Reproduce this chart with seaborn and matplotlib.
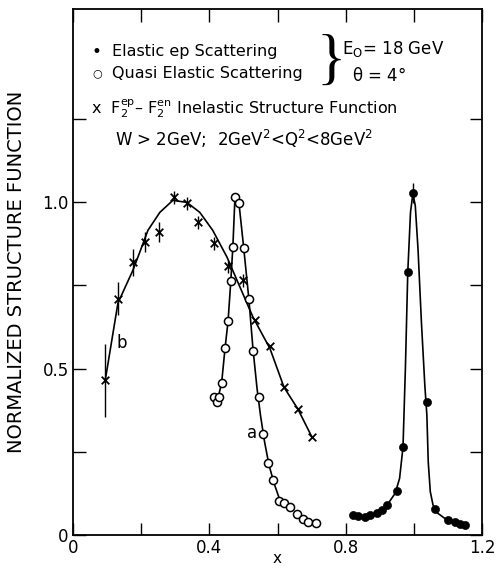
import numpy as np
import pandas as pd
import matplotlib
matplotlib.use("Agg")
import matplotlib.pyplot as plt
import seaborn as sns

# ── data ───────────────────────────────────────────────────────
# inelastic structure function (x markers)
inel_x = [0.094, 0.132, 0.176, 0.211, 0.252, 0.296, 0.334, 0.367, 0.413, 0.454,
          0.498, 0.534, 0.578, 0.619, 0.660, 0.701]
inel_y = [0.465, 0.71, 0.82, 0.88, 0.91, 1.015, 0.997, 0.94, 0.877, 0.808,
          0.766, 0.646, 0.568, 0.444, 0.378, 0.294]
inel_err = [0.11, 0.05, 0.04, 0.03, 0.03, 0.02, 0.02, 0.02, 0.02, 0.02,
            0.02, 0.0, 0.0, 0.0, 0.0, 0.0]
inel_curve_x = [0.094, 0.132, 0.176, 0.196, 0.22, 0.255, 0.293, 0.334, 0.372, 0.41,
                0.452, 0.49, 0.528, 0.578, 0.619, 0.66, 0.701]
inel_curve_y = [0.46, 0.697, 0.796, 0.85, 0.916, 0.97, 1.006, 1.0, 0.97, 0.916,
                0.835, 0.745, 0.655, 0.56, 0.444, 0.378, 0.294]

# quasi elastic scattering (open circles)
qe_x = [0.413, 0.422, 0.428, 0.436, 0.446, 0.455, 0.463, 0.469, 0.475, 0.487,
        0.501, 0.516, 0.528, 0.545, 0.557, 0.572, 0.587, 0.604, 0.619, 0.636,
        0.657, 0.674, 0.689, 0.713]
qe_y = [0.414, 0.40, 0.414, 0.456, 0.562, 0.643, 0.763, 0.865, 1.015, 0.997,
        0.862, 0.709, 0.553, 0.414, 0.303, 0.216, 0.165, 0.102, 0.096, 0.084,
        0.063, 0.048, 0.039, 0.036]
qe_curve_x = [0.425, 0.436, 0.446, 0.455, 0.463, 0.469, 0.475, 0.481, 0.487, 0.501,
              0.516, 0.528, 0.54, 0.55, 0.562, 0.575, 0.59, 0.605, 0.62]
qe_curve_y = [0.41, 0.456, 0.56, 0.643, 0.763, 0.865, 1.01, 1.02, 0.997, 0.862,
              0.709, 0.56, 0.44, 0.36, 0.28, 0.21, 0.155, 0.11, 0.085]

# elastic ep scattering (filled circles)
el_x = [0.821, 0.836, 0.856, 0.871, 0.891, 0.906, 0.921, 0.95, 0.968, 0.982,
        0.997, 1.038, 1.062, 1.10, 1.12, 1.135, 1.15]
el_y = [0.06, 0.057, 0.054, 0.06, 0.066, 0.075, 0.09, 0.132, 0.264, 0.79,
        1.027, 0.40, 0.078, 0.045, 0.04, 0.033, 0.03]
el_curve_x = [0.82, 0.85, 0.88, 0.905, 0.925, 0.945, 0.958, 0.968, 0.975, 0.982,
              0.99, 0.997, 1.004, 1.012, 1.022, 1.032, 1.038, 1.042, 1.048, 1.056,
              1.07, 1.09, 1.12, 1.15]
el_curve_y = [0.06, 0.055, 0.062, 0.075, 0.095, 0.125, 0.17, 0.264, 0.5, 0.79,
              0.97, 1.027, 0.99, 0.86, 0.64, 0.45, 0.36, 0.22, 0.13, 0.09,
              0.065, 0.05, 0.038, 0.03]

x_ticks = [0, 0.2, 0.4, 0.6, 0.8, 1.0, 1.2]
x_labels = ["0", "", "0.4", "", "0.8", "", "1.2"]
y_ticks = [0, 0.25, 0.5, 0.75, 1.0, 1.25]
y_labels = ["0", "", "0.5", "", "1.0", ""]

# ── style ──────────────────────────────────────────────────────
sns.set_style("ticks")
plt.rcParams["font.family"] = ["DejaVu Sans"]
plt.rcParams["mathtext.default"] = "regular"
plt.rcParams["text.color"] = "black"
plt.rcParams["axes.labelcolor"] = "black"
plt.rcParams["xtick.color"] = "black"
plt.rcParams["ytick.color"] = "black"

fig = plt.figure(figsize=(4.96, 5.69), dpi=100)
ax = fig.add_axes([0.147, 0.06, 0.825, 0.925])

# curves
for cx, cy in [(inel_curve_x, inel_curve_y), (qe_curve_x, qe_curve_y), (el_curve_x, el_curve_y)]:
    sns.lineplot(x=cx, y=cy, ax=ax, color="black", lw=1.2, sort=False, estimator=None)

# markers
ax.errorbar(inel_x, inel_y, yerr=inel_err, fmt="none", ecolor="black", elinewidth=1.0)
sns.scatterplot(x=inel_x, y=inel_y, ax=ax, marker="x", s=30, color="black", linewidth=1.3, zorder=4)
sns.scatterplot(x=qe_x, y=qe_y, ax=ax, marker="o", s=34, facecolor="white",
                edgecolor="black", linewidth=1.1, zorder=5)
ax.errorbar([el_x[10]], [el_y[10]], yerr=[0.03], fmt="none", ecolor="black", elinewidth=1.0)
sns.scatterplot(x=el_x, y=el_y, ax=ax, marker="o", s=34, color="black",
                edgecolor="black", zorder=5)

# curve labels
ax.text(0.144, 0.577, "b", fontsize=12, ha="center", va="center")
ax.text(0.525, 0.306, "a", fontsize=12, ha="center", va="center")

# legend block
ax.text(0.07, 1.453, "\u2022", fontsize=12, va="center", ha="center")
ax.text(0.114, 1.453, "Elastic ep Scattering", fontsize=11.5, va="center")
ax.text(0.07, 1.387, "\u25cb", fontsize=8, va="center", ha="center")
ax.text(0.114, 1.387, "Quasi Elastic Scattering", fontsize=11.5, va="center")
ax.text(0.757, 1.418, "}", fontsize=44, va="center", ha="center",
        family="Liberation Serif")
ax.text(0.789, 1.46, "E$_O$= 18 GeV", fontsize=12, va="center")
ax.text(0.818, 1.381, "$\\theta$ = 4\u00b0", fontsize=12, va="center")
ax.text(0.052, 1.282, "x  F$_2^{ep}$\u2013 F$_2^{en}$ Inelastic Structure Function",
        fontsize=11.5, va="center")
ax.text(0.123, 1.19, "W > 2GeV;  2GeV$^2$<Q$^2$<8GeV$^2$", fontsize=12, va="center")

# axes
ax.set_xlim(0, 1.2)
ax.set_ylim(0, 1.583)
ax.set_xticks(x_ticks)
ax.set_xticklabels(x_labels)
ax.set_yticks(y_ticks)
ax.set_yticklabels(y_labels)
ax.tick_params(direction="in", top=True, right=True, length=9, width=1.0,
               labelsize=12, pad=3)
for sp in ax.spines.values():
    sp.set_linewidth(1.3)
    sp.set_color("black")
ax.set_xlabel("x", fontsize=11, labelpad=-4)
ax.set_ylabel("NORMALIZED STRUCTURE FUNCTION", fontsize=14, labelpad=12)

fig.savefig("out.png", dpi=100)
